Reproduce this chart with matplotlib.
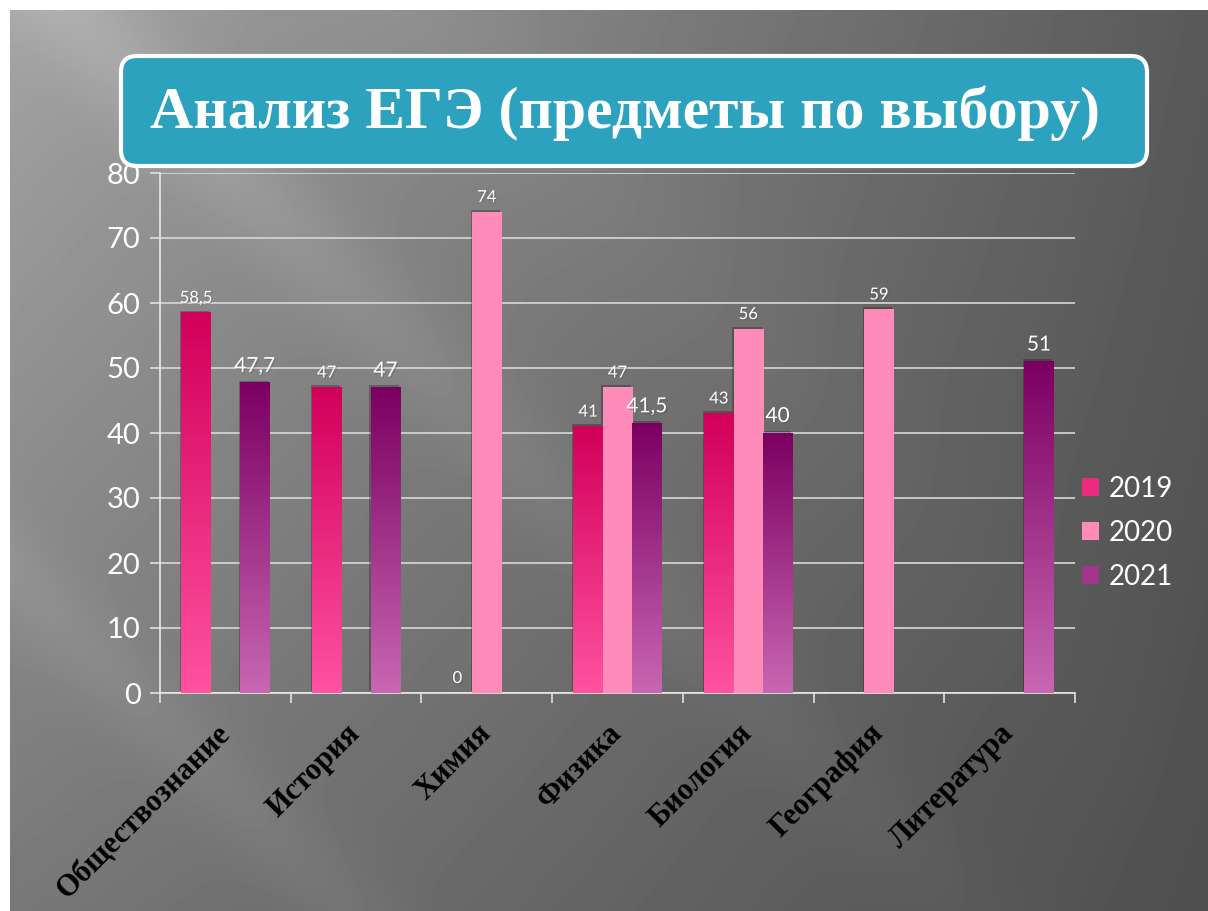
import numpy as np
import matplotlib.pyplot as plt
from matplotlib.patches import FancyBboxPatch, Patch
from matplotlib import patheffects as pe

# --- data ---
subjects = ['Обществознание', 'История', 'Химия', 'Физика', 'Биология', 'География', 'Литература']
years = ['2019', '2020', '2021']
vals_2019 = [58.5, 47, 0, 41, 43, np.nan, np.nan]
vals_2020 = [np.nan, np.nan, 74, 47, 56, 59, np.nan]
vals_2021 = [47.7, 47, np.nan, 41.5, 40, np.nan, 51]
y_ticks = [0, 10, 20, 30, 40, 50, 60, 70, 80]
title = 'Анализ ЕГЭ (предметы по выбору)'

# colours: (top, bottom) of each bar gradient
grad_2019 = ('#d2005a', '#ff52a0')
grad_2020 = ('#ff8bb9', '#ff8bb9')
grad_2021 = ('#7c0062', '#c866b2')
label_size = [12, 12, 15]

W, H = 1208, 911
fig = plt.figure(figsize=(W / 100, H / 100), dpi=100)
fig.patch.set_facecolor('white')

# --- slide background (grey gradient with soft diagonal streaks) ---
bg = fig.add_axes([10 / W, 0, (W - 10) / W, (H - 10) / H])
bg.set_axis_off()
yy, xx = np.mgrid[0:H - 10, 0:W - 10].astype(float)
u = xx / (W - 10)
v = yy / (H - 10)
base = (0.64 * (1 - u) * (1 - v) + 0.35 * u * (1 - v)
        + 0.47 * (1 - u) * v + 0.31 * u * v)
d = xx - yy
base += 0.06 * np.exp(-((d - 60) / 70) ** 2) * (1 - u)
base += 0.04 * np.exp(-((d + 560) / 60) ** 2) * (1 - u)
base += 0.03 * np.exp(-((d - 420) / 120) ** 2) * (1 - u)
bg.imshow(np.clip(base, 0, 1), cmap='gray', vmin=0, vmax=1, aspect='auto',
          extent=[0, 1, 0, 1], interpolation='bilinear')
bg.set_xlim(0, 1)
bg.set_ylim(0, 1)

# --- chart ---
ax = fig.add_axes([160 / W, (H - 693) / H, 915 / W, 520 / H])
ax.set_facecolor('none')
x = np.arange(len(subjects))
bw = 0.225
series = [vals_2019, vals_2020, vals_2021]
grads = [grad_2019, grad_2020, grad_2021]

for i, (vals, (top, bot)) in enumerate(zip(series, grads)):
    bars = ax.bar(x + (i - 1) * bw, np.nan_to_num(vals), bw, color=bot, zorder=3,
                  linewidth=0)
    cmap = plt.matplotlib.colors.LinearSegmentedColormap.from_list('g%d' % i, [bot, top])
    for b, val in zip(bars, vals):
        if np.isnan(val):
            b.set_visible(False)
            continue
        if val > 0:
            b.set_path_effects([pe.SimplePatchShadow(offset=(-1, 1.5), shadow_rgbFace='black', alpha=0.25),
                                pe.Normal()])
            ax.imshow(np.linspace(0, 1, 100).reshape(-1, 1), cmap=cmap, origin='lower',
                      extent=[b.get_x(), b.get_x() + b.get_width(), 0, b.get_height()],
                      aspect='auto', zorder=4)
        txt = f'{val:g}'.replace('.', ',')
        ax.annotate(txt, (b.get_x() + b.get_width() / 2, b.get_height()),
                    xytext=(0, 5), textcoords='offset points', ha='center', va='bottom',
                    color='white', fontsize=label_size[i], family='Lato', zorder=6,
                    path_effects=[pe.withSimplePatchShadow(offset=(1, -1), alpha=0.3)])

ax.set_xlim(-0.5, len(subjects) - 0.5)
ax.set_ylim(0, 80)
ax.set_yticks(y_ticks)
ax.set_yticklabels([str(t) for t in y_ticks], color='white', fontsize=21, family='Lato')
ax.yaxis.grid(True, color='#d8d8d8', lw=1.2, zorder=1)
ax.set_axisbelow(True)

ax.set_xticks(np.arange(len(subjects) + 1) - 0.5)
ax.set_xticklabels([])
ax.set_xticks(x, subjects, minor=True)
ax.tick_params(axis='x', which='major', direction='out', length=7, width=1.2, color='#e0e0e0')
ax.tick_params(axis='x', which='minor', length=0, pad=26)
ax.tick_params(axis='y', direction='out', length=7, width=1.2, color='#e0e0e0', pad=7)
for lab in ax.get_xticklabels(minor=True):
    lab.set_rotation(45)
    lab.set_ha('right')
    lab.set_va('center')
    lab.set_rotation_mode('anchor')
    lab.set_family('Liberation Serif')
    lab.set_fontweight('bold')
    lab.set_fontsize(22)
    lab.set_color('black')

for s in ['top', 'right']:
    ax.spines[s].set_visible(False)
for s in ['left', 'bottom']:
    ax.spines[s].set_color('#e8e8e8')
    ax.spines[s].set_linewidth(1.2)

handles = [Patch(facecolor=c, edgecolor='none') for c in ['#ec2a80', '#ff8bb9', '#a3348c']]
fig.legend(handles, years, loc='center left', bbox_to_anchor=(1082 / W, (H - 533) / H),
           frameon=False, prop={'family': 'Lato', 'size': 20},
           labelcolor='white', handlelength=0.6, handleheight=0.6,
           handletextpad=0.35, labelspacing=0.65, borderpad=0, borderaxespad=0)

# --- title box in pixel coords ---
ov = fig.add_axes([0, 0, 1, 1])
ov.set_axis_off()
ov.set_xlim(0, W)
ov.set_ylim(H, 0)
ov.add_patch(FancyBboxPatch((121, 56), 1026, 110, boxstyle='round,pad=0,rounding_size=16',
                            facecolor='#2ca2bf', edgecolor='white', linewidth=3))
ov.text(625, 113, title, ha='center', va='center', color='white', fontsize=43,
        family='Liberation Serif', fontweight='bold')

fig.savefig('out.png', dpi=100, facecolor=fig.get_facecolor())
